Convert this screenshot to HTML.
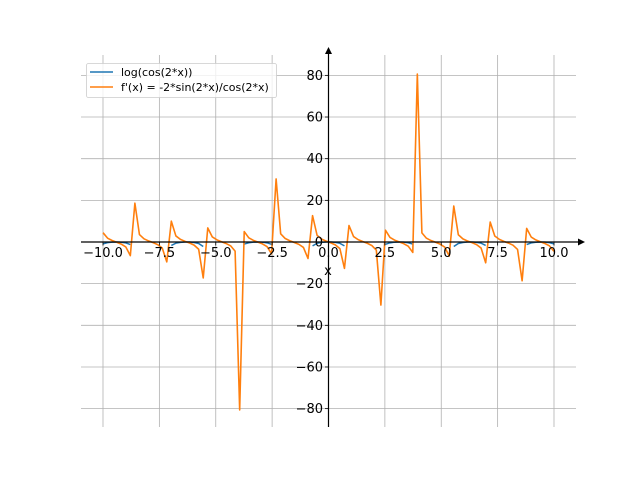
<!DOCTYPE html>
<html><head><meta charset="utf-8"><style>body{margin:0;background:#fff}svg{display:block}text{font-family:"DejaVu Sans","Liberation Sans",sans-serif}</style></head>
<body>
<svg id="s" width="640" height="480" xmlns="http://www.w3.org/2000/svg"></svg>
<script>
const s=document.getElementById('s');
const X=x=>328.5+x*22.55, Y=y=>242-y*2.083;
let h='';
for(let v=-10;v<=10.01;v+=2.5){h+=`<line x1="${X(v)}" y1="55" x2="${X(v)}" y2="427" stroke="#b0b0b0" stroke-width="0.8"/>`;}
for(let v=-80;v<=80;v+=20){h+=`<line x1="81" y1="${Y(v)}" x2="576" y2="${Y(v)}" stroke="#b0b0b0" stroke-width="0.8"/>`;}
const N=100;let blue=[],orange=[],seg=[];
for(let i=0;i<N;i++){const x=-10+20*i/(N-1);const c=Math.cos(2*x);
 orange.push(X(x).toFixed(2)+','+Y(-2*Math.sin(2*x)/c).toFixed(2));
 if(c>0){seg.push(X(x).toFixed(2)+','+Y(Math.log(c)).toFixed(2));}else{if(seg.length)blue.push(seg);seg=[];}}
if(seg.length)blue.push(seg);
for(const b of blue){ if(b.length>1) h+=`<polyline points="${b.join(' ')}" fill="none" stroke="#1f77b4" stroke-width="1.5"/>`;}
h+=`<polyline points="${orange.join(' ')}" fill="none" stroke="#ff7f0e" stroke-width="1.6" stroke-linejoin="round"/>`;
h+=`<line x1="81" y1="242" x2="580" y2="242" stroke="#000" stroke-width="1.2"/><polygon points="585,242 578,238.5 578,245.5" fill="#000"/>`;
h+=`<line x1="328.5" y1="427" x2="328.5" y2="52" stroke="#000" stroke-width="1.2"/><polygon points="328.5,47 325,54 332,54" fill="#000"/>`;
const lab=[-10,-7.5,-5,-2.5,0,2.5,5,7.5,10];
for(const v of lab){h+=`<line x1="${X(v)}" y1="242" x2="${X(v)}" y2="245.5" stroke="#000" stroke-width="0.8"/><text x="${X(v)}" y="257" font-size="13" text-anchor="middle">${v<0?'\u2212':''}${Math.abs(v).toFixed(1)}</text>`;}
for(let v=-80;v<=80;v+=20){h+=`<line x1="325" y1="${Y(v)}" x2="328.5" y2="${Y(v)}" stroke="#000" stroke-width="0.8"/><text x="323" y="${Y(v)+4.5}" font-size="13" text-anchor="end">${v<0?'\u2212':''}${Math.abs(v)}</text>`;}
h+=`<text x="328" y="275" font-size="13" text-anchor="middle">x</text>`;
h+=`<rect x="86.5" y="63.5" width="190" height="34" rx="2" fill="#fff" fill-opacity="0.8" stroke="#ccc" stroke-width="0.8"/>`;
h+=`<line x1="90" y1="72" x2="113" y2="72" stroke="#1f77b4" stroke-width="1.5"/><text x="121" y="76" font-size="11">log(cos(2*x))</text>`;
h+=`<line x1="90" y1="87" x2="113" y2="87" stroke="#ff7f0e" stroke-width="1.5"/><text x="121" y="91" font-size="11">f'(x) = -2*sin(2*x)/cos(2*x)</text>`;
s.innerHTML=h;
</script>
</body></html>
